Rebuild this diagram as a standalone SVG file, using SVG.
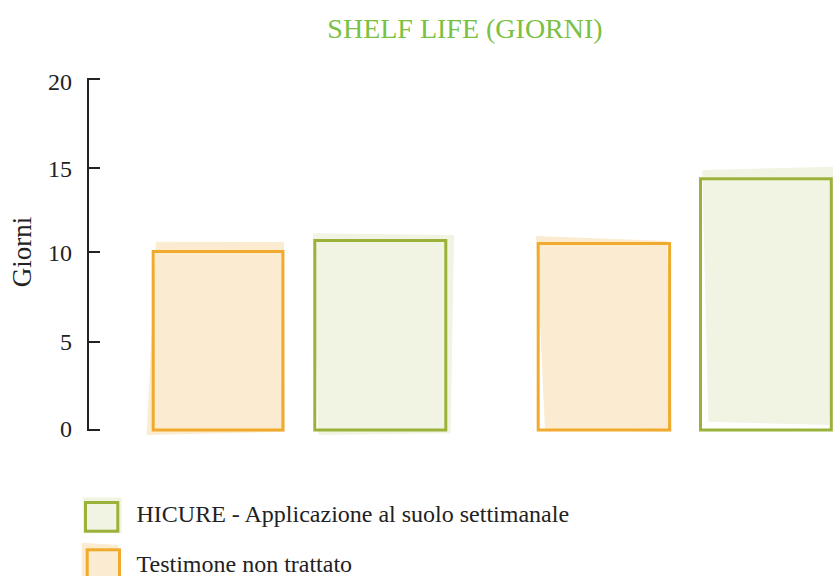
<svg xmlns="http://www.w3.org/2000/svg" width="833" height="576" viewBox="0 0 833 576">
  <style>
    text { font-family: "Liberation Serif", "Times New Roman", serif; fill: #222222; }
    .title { font-size: 28px; fill: #7ac143; }
    .tick { font-size: 24px; text-anchor: end; }
    .axis { stroke: #222222; stroke-width: 2; fill: none; }
    .legend { font-size: 24px; }
    .fillO { fill: #fbebd0; }
    .fillG { fill: #f1f4e3; }
    .strokeO { fill: none; stroke: #f0aa2d; stroke-width: 3; }
    .strokeG { fill: none; stroke: #9bb23a; stroke-width: 3; }
  </style>
  <rect width="833" height="576" fill="#ffffff"/>
  <text class="title" x="465" y="38" text-anchor="middle">SHELF LIFE (GIORNI)</text>

  <g id="y-axis">
    <path class="axis" d="M100,79 H88 V430 H100 M88,168 H100 M88,252 H100 M88,342 H100"/>
    <text class="tick" x="72" y="90">20</text>
    <text class="tick" x="72" y="177">15</text>
    <text class="tick" x="72" y="261">10</text>
    <text class="tick" x="72" y="350">5</text>
    <text class="tick" x="72" y="437">0</text>
    <text x="0" y="0" font-size="27" text-anchor="middle" transform="translate(31,252) rotate(-90)">Giorni</text>
  </g>

  <g id="bar-testimone-1">
    <polygon class="fillO" points="156,241.7 284,242 285,431.7 146.7,435"/>
    <rect class="strokeO" x="153.2" y="251.5" width="129.7" height="178.5"/>
  </g>
  <g id="bar-hicure-1">
    <polygon class="fillG" points="313,233.3 454,235 450.7,433.3 318.3,435"/>
    <rect class="strokeG" x="314.8" y="240.5" width="131" height="189.5"/>
  </g>
  <g id="bar-testimone-2">
    <polygon class="fillO" points="536,236 667,241 671.7,431.7 545,429.3"/>
    <rect class="strokeO" x="538.2" y="243.5" width="131.4" height="186.5"/>
  </g>
  <g id="bar-hicure-2">
    <polygon class="fillG" points="702.3,170 835,166.7 829.3,425 708.3,421.7"/>
    <rect class="strokeG" x="700.5" y="178.8" width="130.8" height="251.2"/>
  </g>

  <g id="legend-hicure">
    <polygon class="fillG" points="82.7,497.3 121.7,497.5 121.7,533.3 83,533.3"/>
    <rect class="strokeG" x="85.5" y="502.5" width="32.3" height="28.7"/>
    <text class="legend" x="136.5" y="521.5">HICURE - Applicazione al suolo settimanale</text>
  </g>
  <g id="legend-testimone">
    <polygon class="fillO" points="81.7,542.7 118.3,545 118.3,580 81.7,580"/>
    <rect class="strokeO" x="87.2" y="549.8" width="32.3" height="30"/>
    <text class="legend" x="136.5" y="571.5">Testimone non trattato</text>
  </g>
</svg>
